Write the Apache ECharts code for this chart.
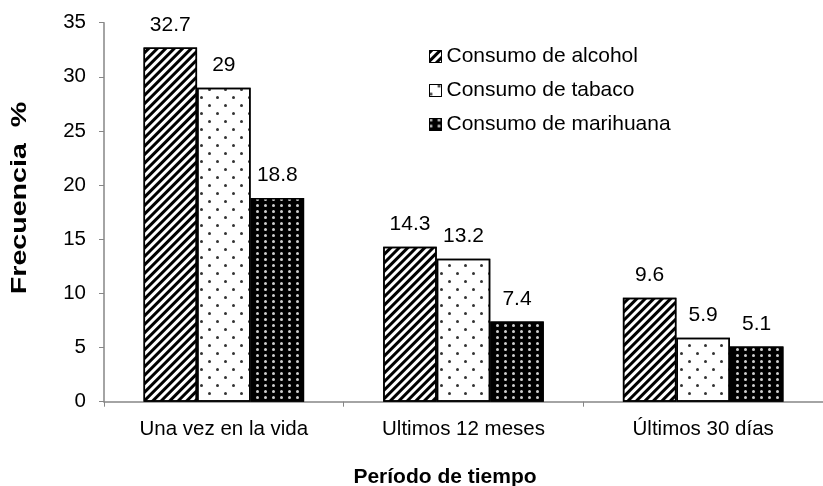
<!DOCTYPE html>
<html>
<head>
<meta charset="utf-8">
<script src="https://cdn.jsdelivr.net/npm/echarts@6/dist/echarts.min.js"></script>
<style>
html,body{margin:0;padding:0;background:#fff;}
#chart{width:823px;height:486px;}
</style>
</head>
<body>
<div id="chart"></div>
<script>
var categories = ['Una vez en la vida', 'Ultimos 12 meses', 'Últimos 30 días'];
var seriesNames = ['Consumo de alcohol', 'Consumo de tabaco', 'Consumo de marihuana'];
var alcohol = [32.7, 14.3, 9.6];
var tabaco = [29, 13.2, 5.9];
var marihuana = [18.8, 7.4, 5.1];
var yTicks = [0, 5, 10, 15, 20, 25, 30, 35];
var xTitle = 'Período de tiempo';
var yTitle = 'Frecuencia  %';

var FONT = '"Liberation Sans", Arial, sans-serif';
var AXIS = '#868686';

var decals = [
  { symbol: 'rect', symbolSize: 1, color: '#000', dashArrayX: [1, 0], dashArrayY: [2.4, 2.4], rotation: -Math.PI / 4 },
  { symbol: 'circle', symbolSize: 1, color: '#333', dashArrayX: [[2.8, 12.2], [0, 7.5, 2.8, 4.7]], dashArrayY: [2.8, 4.6] },
  { symbol: 'circle', symbolSize: 1, color: '#cfcfcf', dashArrayX: [2.5, 4.7], dashArrayY: [2.5, 2.8] }
];
var fills = ['#fff', '#fff', '#000'];
var values = [alcohol, tabaco, marihuana];

var series = seriesNames.map(function (name, i) {
  return {
    name: name,
    type: 'bar',
    data: values[i],
    barGap: '0%',
    barCategoryGap: '33%',
    itemStyle: { color: fills[i], borderColor: '#000', borderWidth: 1.5, decal: decals[i] },
    label: { show: true, position: 'top', distance: 12, fontSize: 21, color: '#000', fontFamily: FONT },
    emphasis: { disabled: true }
  };
});

var chart = echarts.init(document.getElementById('chart'), null, { renderer: 'canvas' });
chart.setOption({
  animation: false,
  backgroundColor: '#fff',
  grid: { left: 104, top: 22.7, width: 729, height: 379, containLabel: false },
  legend: {
    orient: 'vertical',
    left: 424,
    top: 41,
    itemWidth: 12,
    itemHeight: 12,
    itemGap: 13,
    icon: 'rect',
    data: seriesNames,
    textStyle: { fontSize: 21, color: '#000', fontFamily: FONT },
    itemStyle: { borderColor: '#000', borderWidth: 1 }
  },
  xAxis: {
    type: 'category',
    data: categories,
    axisLine: { lineStyle: { color: AXIS, width: 1.5 } },
    axisTick: { show: true, length: 5, lineStyle: { color: AXIS } },
    axisLabel: { fontSize: 20.5, color: '#000', margin: 17, fontFamily: FONT }
  },
  yAxis: {
    type: 'value',
    min: 0,
    max: 35,
    interval: 5,
    splitLine: { show: false },
    axisLine: { show: true, lineStyle: { color: AXIS, width: 1.5 } },
    axisTick: { show: true, length: 5, lineStyle: { color: AXIS } },
    axisLabel: { fontSize: 20.5, color: '#000', margin: 18, fontFamily: FONT,
      formatter: function (v) { return yTicks.indexOf(v) >= 0 ? String(v) : ''; } }
  },
  graphic: [
    { type: 'text', x: 20, y: 198, rotation: Math.PI / 2, scaleX: 1.3,
      style: { text: yTitle, fill: '#000', font: 'bold 22px "Liberation Sans", Arial, sans-serif', align: 'center', verticalAlign: 'middle' } },
    { type: 'text', x: 445, y: 477,
      style: { text: xTitle, fill: '#000', font: 'bold 21px "Liberation Sans", Arial, sans-serif', align: 'center', verticalAlign: 'middle' } }
  ],
  series: series
});
</script>
</body>
</html>
